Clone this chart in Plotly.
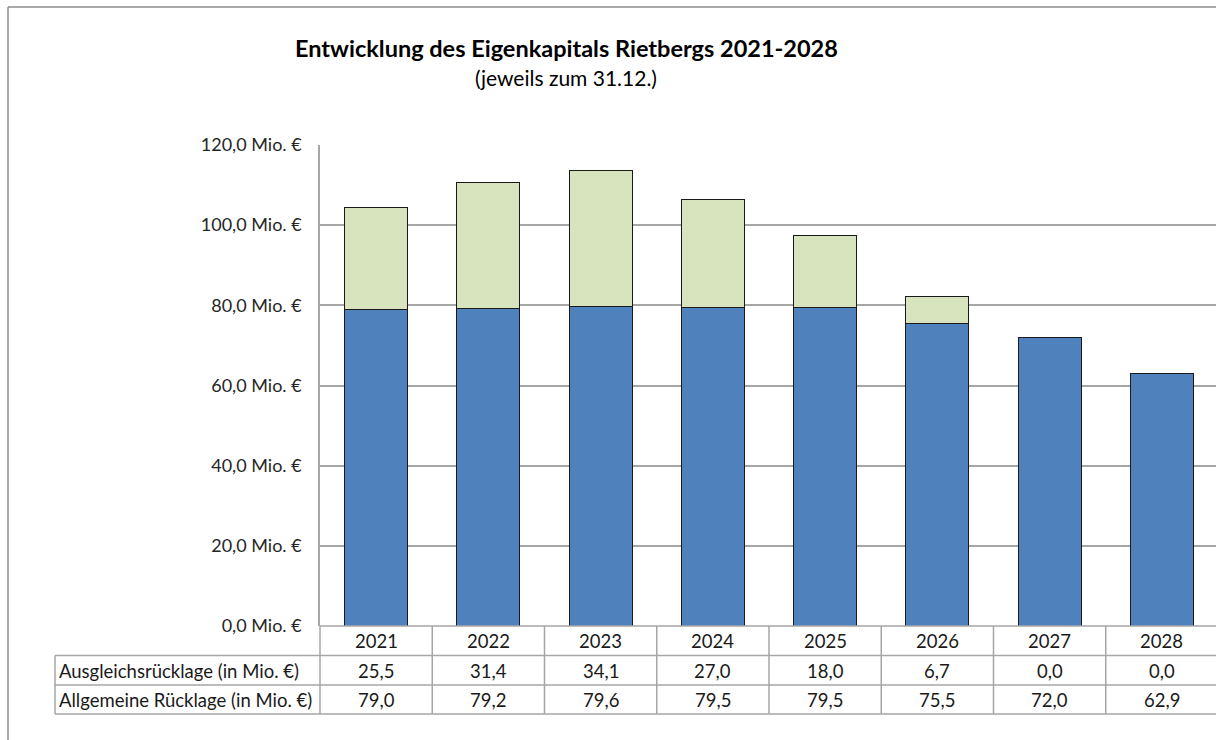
import plotly.graph_objects as go

# Jahresendstände des Eigenkapitals (Mio. €)
jahre = ["2021", "2022", "2023", "2024", "2025", "2026", "2027", "2028"]
ausgleichsruecklage = [25.5, 31.4, 34.1, 27.0, 18.0, 6.7, 0.0, 0.0]
allgemeine_ruecklage = [79.0, 79.2, 79.6, 79.5, 79.5, 75.5, 72.0, 62.9]
zeilen_titel = ["Ausgleichsrücklage (in Mio. €)", "Allgemeine Rücklage (in Mio. €)"]
y_ticks = [0, 20, 40, 60, 80, 100, 120]

FONT = "Lato"
BLAU = "#4F81BD"
GRUEN = "#D7E4BD"
LINIE = "#A6A6A6"

W, H = 1216, 740
L, R, T, B = 320, 0, 145, 114
plot_w = W - L - R
plot_h = H - T - B


def px_x(p):
    return (p - L) / plot_w


def px_y(p):
    return (H - B - p) / plot_h


def fmt(v):
    return f"{v:.1f}".replace(".", ",")


xs = list(range(len(jahre)))

fig = go.Figure()
fig.add_trace(go.Bar(
    x=xs, y=allgemeine_ruecklage, name=zeilen_titel[1],
    marker=dict(color=BLAU, line=dict(color="#1a1a1a", width=1)),
    width=0.56,
))
fig.add_trace(go.Bar(
    x=xs, y=ausgleichsruecklage, name=zeilen_titel[0],
    marker=dict(color=GRUEN, line=dict(color="#1a1a1a", width=1)),
    width=0.56,
))

shapes = []
# Rahmen links und oben
shapes.append(dict(type="line", xref="paper", yref="paper",
                   x0=px_x(8), x1=px_x(8), y0=px_y(7), y1=px_y(745),
                   line=dict(color="#8C8C8C", width=1.5)))
shapes.append(dict(type="line", xref="paper", yref="paper",
                   x0=px_x(8), x1=px_x(1220), y0=px_y(7), y1=px_y(7),
                   line=dict(color="#8C8C8C", width=1.5)))

# Datentabelle unter dem Diagramm
row_top = 626
row_lines = [655.5, 685, 714]
shapes.append(dict(type="line", xref="paper", yref="paper",
                   x0=px_x(320), x1=px_x(1220), y0=px_y(row_top), y1=px_y(row_top),
                   line=dict(color=LINIE, width=1.5)))
for ry in row_lines:
    shapes.append(dict(type="line", xref="paper", yref="paper",
                       x0=px_x(55), x1=px_x(1220), y0=px_y(ry), y1=px_y(ry),
                       line=dict(color=LINIE, width=1.5)))
shapes.append(dict(type="line", xref="paper", yref="paper",
                   x0=px_x(55), x1=px_x(55), y0=px_y(row_lines[0]), y1=px_y(row_lines[-1]),
                   line=dict(color=LINIE, width=1.5)))
shapes.append(dict(type="line", xref="paper", yref="paper",
                   x0=px_x(320), x1=px_x(320), y0=px_y(row_top), y1=px_y(row_lines[-1]),
                   line=dict(color=LINIE, width=1.5)))
for i in xs[:-1]:
    shapes.append(dict(type="line", xref="x", yref="paper",
                       x0=i + 0.5, x1=i + 0.5, y0=px_y(row_top), y1=px_y(row_lines[-1]),
                       line=dict(color=LINIE, width=1.5)))

annotations = []
cell_font = dict(family=FONT, size=18.5, color="#1a1a1a")
row_centers = [(row_top + row_lines[0]) / 2, (row_lines[0] + row_lines[1]) / 2,
               (row_lines[1] + row_lines[2]) / 2]
for i, j in enumerate(jahre):
    for k, txt in enumerate([j, fmt(ausgleichsruecklage[i]), fmt(allgemeine_ruecklage[i])]):
        annotations.append(dict(x=i, y=px_y(row_centers[k] + 0.5), xref="x", yref="paper",
                                xanchor="center", yanchor="middle",
                                text=txt, showarrow=False, font=cell_font))
for k, t in enumerate(zeilen_titel):
    annotations.append(dict(x=px_x(57), y=px_y(row_centers[k + 1] + 0.5), xref="paper", yref="paper",
                            xanchor="left", yanchor="middle", text=t, showarrow=False,
                            font=cell_font))

# Titel
annotations.append(dict(x=px_x(566), y=px_y(48), xref="paper", yref="paper",
                        xanchor="center", yanchor="middle",
                        text="<b>Entwicklung des Eigenkapitals Rietbergs 2021-2028</b>",
                        showarrow=False, font=dict(family=FONT, size=23.5, color="#000000")))
annotations.append(dict(x=px_x(566), y=px_y(78), xref="paper", yref="paper",
                        xanchor="center", yanchor="middle",
                        text="(jeweils zum 31.12.)",
                        showarrow=False, font=dict(family=FONT, size=21, color="#000000")))

fig.update_layout(
    width=W, height=H,
    margin=dict(l=L, r=R, t=T, b=B, pad=0),
    paper_bgcolor="white", plot_bgcolor="white",
    barmode="stack",
    showlegend=False,
    shapes=shapes,
    annotations=annotations,
    xaxis=dict(range=[-0.5, 7.5 - 2 / 112.25], showticklabels=False, showgrid=False,
               zeroline=False, showline=False, ticks=""),
    yaxis=dict(range=[0, 120], tickvals=y_ticks,
               ticktext=[fmt(v) + " Mio. €" for v in y_ticks],
               showgrid=True, gridcolor=LINIE, gridwidth=1.5,
               zeroline=False, showline=True, linecolor=LINIE, linewidth=1.5,
               ticks="", ticklabelstandoff=13,
               tickfont=dict(family=FONT, size=18, color="#262626")),
)

fig.write_html("out.html")
